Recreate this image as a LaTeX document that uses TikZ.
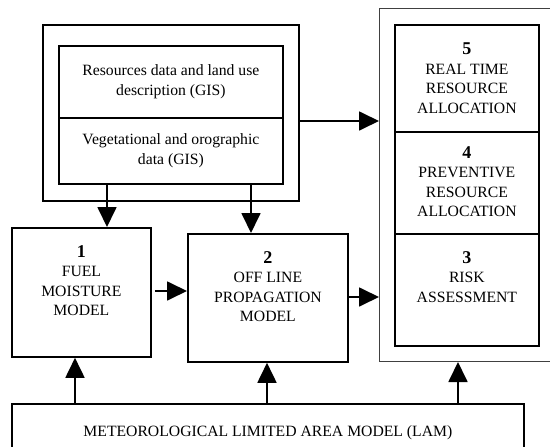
\documentclass[tikz,border=0pt]{standalone}
\usepackage{fontspec}
\setmainfont{Liberation Serif}
\usetikzlibrary{arrows.meta}

\newcommand{\boxnum}[1]{{\fontsize{18}{19.5}\selectfont\bfseries #1}}

\begin{document}
\begin{tikzpicture}[
      x=1pt, y=-1pt,
      box/.style={rectangle, draw, line width=1.8pt, anchor=north west, inner sep=0pt, align=center, font=\fontsize{15.7}{19.5}\selectfont},
      frame/.style={rectangle, draw=black!75, line width=1pt, anchor=north west, inner sep=0pt},
      txt/.style={align=center, inner sep=0pt, anchor=north, font=\fontsize{15.7}{19.5}\selectfont},
      arrow/.style={-{Triangle[length=20pt, width=19pt]}, line width=1.8pt}
    ]
    \useasboundingbox (0,0) rectangle (550,447);

    % GIS data
    \node[box, minimum width=256pt, minimum height=176pt] (gis) at (42,24) {};
    \node[box, minimum width=224pt, minimum height=72pt] (res) at (58,45) {Resources data and land use\\description (GIS)};
    \node[box, minimum width=224pt, minimum height=66pt] (veg) at (58,117) {Vegetational and orographic\\data (GIS)};

    % models
    \node[box, minimum width=139pt, minimum height=129pt] (fuel) at (11,227) {};
    \node[txt] (fueltxt) at ([yshift=-18pt]fuel.north) {\boxnum{1}\\FUEL\\MOISTURE\\MODEL};
    \node[box, minimum width=160pt, minimum height=128pt] (prop) at (187,233) {};
    \node[txt] (proptxt) at ([yshift=-18pt]prop.north) {\boxnum{2}\\OFF LINE\\PROPAGATION\\MODEL};

    % allocation stack
    \node[frame, minimum width=200pt, minimum height=353pt] (alloc) at (379,8) {};
    \node[box, minimum width=144pt, minimum height=107pt] (real) at (394,24) {};
    \node[txt] (realtxt) at ([yshift=-19pt]real.north) {\boxnum{5}\\REAL TIME\\RESOURCE\\ALLOCATION};
    \node[box, minimum width=144pt, minimum height=102pt] (prev) at (394,131) {};
    \node[txt] (prevtxt) at ([yshift=-15pt]prev.north) {\boxnum{4}\\PREVENTIVE\\RESOURCE\\ALLOCATION};
    \node[box, minimum width=144pt, minimum height=112pt] (risk) at (394,233) {};
    \node[txt] (risktxt) at ([yshift=-18pt]risk.north) {\boxnum{3}\\RISK\\ASSESSMENT};

    % LAM
    \node[box, minimum width=512pt, minimum height=58pt] (lam) at (11,403) {METEOROLOGICAL LIMITED AREA MODEL (LAM)};

    \draw[arrow] (veg.south -| 107,0) -- (fuel.north -| 107,0);
    \draw[arrow] (veg.south -| 251,0) -- (prop.north -| 251,0);
    \draw[arrow] (gis.east |- 0,121) -- (alloc.west |- 0,121);
    \draw[arrow] ([xshift=3pt]fuel.east |- 0,291) -- (prop.west |- 0,291);
    \draw[arrow] (prop.east |- 0,297) -- (alloc.west |- 0,297);
    \draw[arrow] (lam.north -| 75,0) -- (fuel.south -| 75,0);
    \draw[arrow] (lam.north -| 267,0) -- (prop.south -| 267,0);
    \draw[arrow] (lam.north -| 458,0) -- (alloc.south -| 458,0);
  \end{tikzpicture}
\end{document}
